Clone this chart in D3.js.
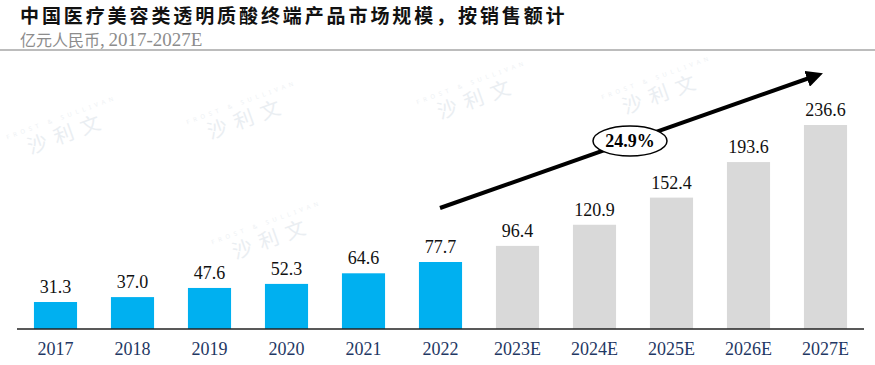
<!DOCTYPE html>
<html><head><meta charset="utf-8">
<script src="https://cdn.jsdelivr.net/npm/d3@7"></script>
<style>body{margin:0;background:#fff}svg{display:block}</style>
</head><body>
<svg id="c" width="875" height="365"></svg>
<script>
const years = ["2017","2018","2019","2020","2021","2022","2023E","2024E","2025E","2026E","2027E"];
const values = [31.3,37.0,47.6,52.3,64.6,77.7,96.4,120.9,152.4,193.6,236.6];
const isForecast = [false,false,false,false,false,false,true,true,true,true,true];
const cagrLabel = "24.9%";
const title = "中国医疗美容类透明质酸终端产品市场规模，按销售额计";
const subtitleUnit = "亿元人民币,";
const subtitleRange = "2017-2027E";

const svg = d3.select("#c");
const W = 875, H = 365;
const base = 329;

// faint watermarks
const wm = [[250,125],[275,245],[480,105],[665,100],[70,140]];
wm.forEach(([x,y])=>{
  const g = svg.append("g").attr("transform",`translate(${x},${y}) rotate(-20)`);
  g.append("text").attr("text-anchor","middle").attr("font-family","Noto Sans CJK SC")
   .attr("font-size",20).attr("fill","#eaeef2").attr("letter-spacing",8).text("沙利文");
  g.append("text").attr("text-anchor","middle").attr("y",-22).attr("font-family","Noto Sans")
   .attr("font-size",6).attr("fill","#eef1f4").attr("letter-spacing",4).text("FROST & SULLIVAN");
});

// title
svg.append("text").attr("x",20).attr("y",22.5).attr("font-family","Noto Sans CJK SC")
  .attr("font-weight","bold").attr("font-size",19).attr("letter-spacing",2.9).attr("fill","#111").text(title);
const st = svg.append("text").attr("x",20).attr("y",46).attr("fill","#8c8c8c");
st.append("tspan").attr("font-family","Noto Sans CJK SC").attr("font-size",16).text(subtitleUnit);
st.append("tspan").attr("dx",4).attr("font-family","Liberation Serif").attr("font-size",19).text(subtitleRange);
svg.append("line").attr("x1",0).attr("x2",W).attr("y1",50).attr("y2",50)
  .attr("stroke","#a6a6a6").attr("stroke-width",1.5);

const x = d3.scaleBand().domain(years).range([17,864]).paddingInner(0.44).paddingOuter(0.22);
const y = d3.scaleLinear().domain([0,236.6]).range([base, 125]);

svg.selectAll("rect.bar").data(years).enter().append("rect")
  .attr("x",d=>x(d)).attr("width",x.bandwidth())
  .attr("y",(d,i)=>y(values[i])).attr("height",(d,i)=>base-y(values[i]))
  .attr("fill",(d,i)=>isForecast[i]?"#d9d9d9":"#00b0f0");

svg.selectAll("text.val").data(years).enter().append("text")
  .attr("x",d=>x(d)+x.bandwidth()/2).attr("y",(d,i)=>y(values[i])-9)
  .attr("text-anchor","middle").attr("font-family","Liberation Serif").attr("font-size",18)
  .attr("fill","#111").text((d,i)=>values[i].toFixed(1));

const axis = svg.append("g").attr("transform",`translate(0,${base})`)
  .call(d3.axisBottom(x).tickSize(0).tickPadding(13));
axis.select(".domain").attr("stroke","#222").attr("stroke-width",1.5).attr("d","M17,0H864");
axis.selectAll("text").attr("font-family","Liberation Serif").attr("font-size",18).attr("fill","#1f3864");

// arrow
svg.append("defs").append("marker").attr("id","ah").attr("viewBox","0 0 10 10")
  .attr("refX",5).attr("refY",5).attr("markerWidth",4.2).attr("markerHeight",4.2)
  .attr("orient","auto").attr("markerUnits","strokeWidth")
  .append("path").attr("d","M0,0L10,5L0,10z").attr("fill","#000");
svg.append("line").attr("x1",440).attr("y1",208).attr("x2",815).attr("y2",76)
  .attr("stroke","#000").attr("stroke-width",4).attr("marker-end","url(#ah)");
svg.append("ellipse").attr("cx",630).attr("cy",141).attr("rx",37).attr("ry",15)
  .attr("fill","#fff").attr("stroke","#000").attr("stroke-width",1.5);
svg.append("text").attr("x",630).attr("y",147).attr("text-anchor","middle")
  .attr("font-family","Liberation Serif").attr("font-weight","bold").attr("font-size",18)
  .attr("fill","#000").text(cagrLabel);
</script>
</body></html>
